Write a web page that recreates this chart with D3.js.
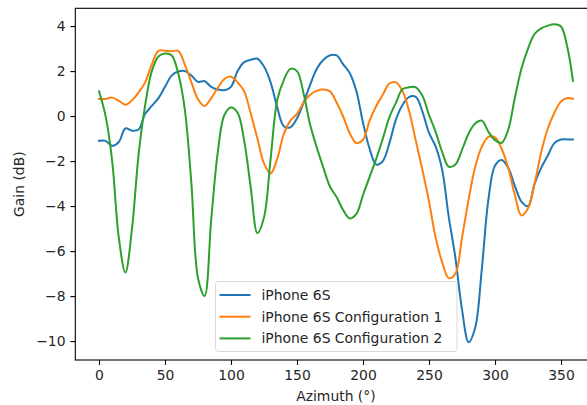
<!DOCTYPE html>
<html>
<head>
<meta charset="utf-8">
<script src="https://cdn.jsdelivr.net/npm/d3@7"></script>
<style>
  body { margin: 0; background: #fff; }
  text { font-family: "DejaVu Sans", sans-serif; fill: #262626; }
</style>
</head>
<body>
<div id="chart"></div>
<script>
// azimuth samples (degrees)
const azimuth = [0, 5, 10, 15, 20, 25, 30, 35, 40, 45, 50, 55, 60, 65, 70, 75, 80, 85, 90, 95,
  100, 105, 110, 115, 120, 125, 130, 135, 140, 145, 150, 155, 160, 165, 170, 175, 180, 185, 190, 195,
  200, 205, 210, 215, 220, 225, 230, 235, 240, 245, 250, 255, 260, 265, 270, 275, 280, 285, 290, 295,
  300, 305, 310, 315, 320, 325, 330, 335, 340, 345, 350, 355, 359];

const gainPhone = [-1.1, -1.1, -1.32, -1.15, -0.55, -0.65, -0.6, 0.1, 0.45, 0.8, 1.3, 1.8, 1.98, 2.0, 1.8, 1.52, 1.55, 1.3, 1.18, 1.15,
  1.3, 2.0, 2.4, 2.5, 2.55, 2.2, 1.5, 0.4, -0.45, -0.5, -0.1, 0.6, 1.4, 2.1, 2.5, 2.7, 2.7, 2.3, 1.9, 1.1,
  -0.3, -1.45, -2.15, -2.0, -1.2, -0.15, 0.5, 0.85, 0.85, 0.2, -0.75, -1.35, -2.4, -4.5, -6.3, -8.6, -10.05, -9.4, -6.8, -3.7,
  -2.2, -1.95, -2.3, -3.1, -3.8, -4.0, -3.0, -2.3, -1.75, -1.2, -1.04, -1.04, -1.04];

const gainConfig1 = [0.76, 0.76, 0.82, 0.68, 0.5, 0.7, 1.05, 1.5, 2.3, 2.9, 2.9, 2.88, 2.9, 2.3, 1.5, 0.75, 0.45, 0.8, 1.25, 1.65,
  1.75, 1.5, 1.1, 0.1, -1.0, -2.1, -2.55, -1.9, -0.8, -0.2, 0.1, 0.6, 0.95, 1.12, 1.18, 1.1, 0.6, -0.03, -0.77, -1.2,
  -1.05, -0.2, 0.45, 0.95, 1.45, 1.5, 1.1, 0.2, -1.1, -2.4, -3.8, -5.4, -6.5, -7.2, -7.0, -5.4, -3.7, -2.25, -1.36, -0.92,
  -0.95, -1.45, -2.3, -3.5, -4.42, -4.1, -3.0, -1.6, -0.55, 0.15, 0.65, 0.8, 0.77];

const gainConfig2 = [1.1, 0.0, -2.0, -5.4, -6.95, -5.0, -1.7, 0.5, 2.0, 2.65, 2.78, 2.7, 1.9, 0.3, -3.0, -7.2, -8.0, -4.6, -1.6, 0.05,
  0.38, 0.15, -1.1, -3.2, -5.2, -4.5, -1.9, 0.7, 1.6, 2.1, 2.0, 1.0, -0.4, -1.4, -2.3, -3.14, -3.6, -4.18, -4.55, -4.35,
  -3.5, -2.7, -1.9, -1.0, -0.05, 0.6, 1.2, 1.28, 1.28, 0.9, 0.05, -0.7, -1.6, -2.25, -2.15, -1.5, -0.77, -0.33, -0.2, -0.7,
  -1.07, -1.19, -0.6, 0.8, 2.1, 3.0, 3.65, 3.9, 4.02, 4.08, 3.98, 3.0, 1.56];

const seriesNames = ["iPhone 6S", "iPhone 6S Configuration 1", "iPhone 6S Configuration 2"];
const seriesColors = ["#1f77b4", "#ff7f0e", "#2ca02c"];
const xTicks = [0, 50, 100, 150, 200, 250, 300, 350];
const yTicks = [-10, -8, -6, -4, -2, 0, 2, 4];

function drawChart() {
  const width = 587, height = 405;
  const left = 75.3, right = 596.6, top = 8.3, bottom = 360;
  const fontSize = 13.9;

  const svg = d3.select("#chart").append("svg")
    .attr("width", width)
    .attr("height", height);

  const x = d3.scaleLinear().domain([-17.95, 376.95]).range([left, right]);
  const y = d3.scaleLinear().domain([-10.84, 4.79]).range([bottom, top]);

  const allSeries = [gainPhone, gainConfig1, gainConfig2];

  const line = d3.line()
    .x(function (d, i) { return x(azimuth[i]); })
    .y(function (d) { return y(d); })
    .curve(d3.curveCatmullRom.alpha(0.5));

  svg.append("g")
    .selectAll("path")
    .data(allSeries)
    .enter()
    .append("path")
    .attr("d", line)
    .attr("fill", "none")
    .attr("stroke", function (d, i) { return seriesColors[i]; })
    .attr("stroke-width", 2)
    .attr("stroke-linejoin", "round")
    .attr("stroke-linecap", "square");

  // axes
  const xAxis = svg.append("g")
    .attr("transform", "translate(0," + bottom + ")")
    .call(d3.axisBottom(x).tickValues(xTicks).tickSize(4.9).tickPadding(4.9).tickSizeOuter(0));
  const yAxis = svg.append("g")
    .attr("transform", "translate(" + left + ",0)")
    .call(d3.axisLeft(y).tickValues(yTicks).tickSize(4.9).tickPadding(4.9).tickSizeOuter(0)
      .tickFormat(function (d) { return d < 0 ? "\u2212" + Math.abs(d) : d; }));

  [xAxis, yAxis].forEach(function (a) {
    a.select(".domain").remove();
    a.selectAll("line").attr("stroke", "#000").attr("stroke-width", 1.1);
    a.selectAll("text").attr("font-size", fontSize).attr("fill", "#262626")
      .style("font-family", "DejaVu Sans");
  });

  // spines
  svg.append("rect")
    .attr("x", left).attr("y", top)
    .attr("width", right - left).attr("height", bottom - top)
    .attr("fill", "none").attr("stroke", "#000").attr("stroke-width", 1.1);

  svg.append("text")
    .attr("x", (left + right) / 2)
    .attr("y", 401)
    .attr("text-anchor", "middle")
    .attr("font-size", fontSize)
    .text("Azimuth (\u00b0)");

  svg.append("text")
    .attr("transform", "translate(24," + (top + bottom) / 2 + ") rotate(-90)")
    .attr("text-anchor", "middle")
    .attr("font-size", fontSize)
    .text("Gain (dB)");

  // legend
  const lg = svg.append("g").attr("transform", "translate(215.5,281.5)");
  lg.append("rect")
    .attr("width", 241.5).attr("height", 70)
    .attr("rx", 3)
    .attr("fill", "#fff").attr("fill-opacity", 0.8)
    .attr("stroke", "#d9d9d9").attr("stroke-width", 1);
  const items = lg.selectAll("g.item")
    .data(seriesNames)
    .enter()
    .append("g")
    .attr("class", "item")
    .attr("transform", function (d, i) { return "translate(0," + (13.5 + i * 21.7) + ")"; });
  items.append("line")
    .attr("x1", 4).attr("x2", 35)
    .attr("stroke", function (d, i) { return seriesColors[i]; })
    .attr("stroke-width", 2);
  items.append("text")
    .attr("x", 46)
    .attr("dy", "0.35em")
    .attr("font-size", fontSize)
    .text(function (d) { return d; });
}

window.addEventListener("load", function () {
  drawChart();
});
</script>
</body>
</html>
